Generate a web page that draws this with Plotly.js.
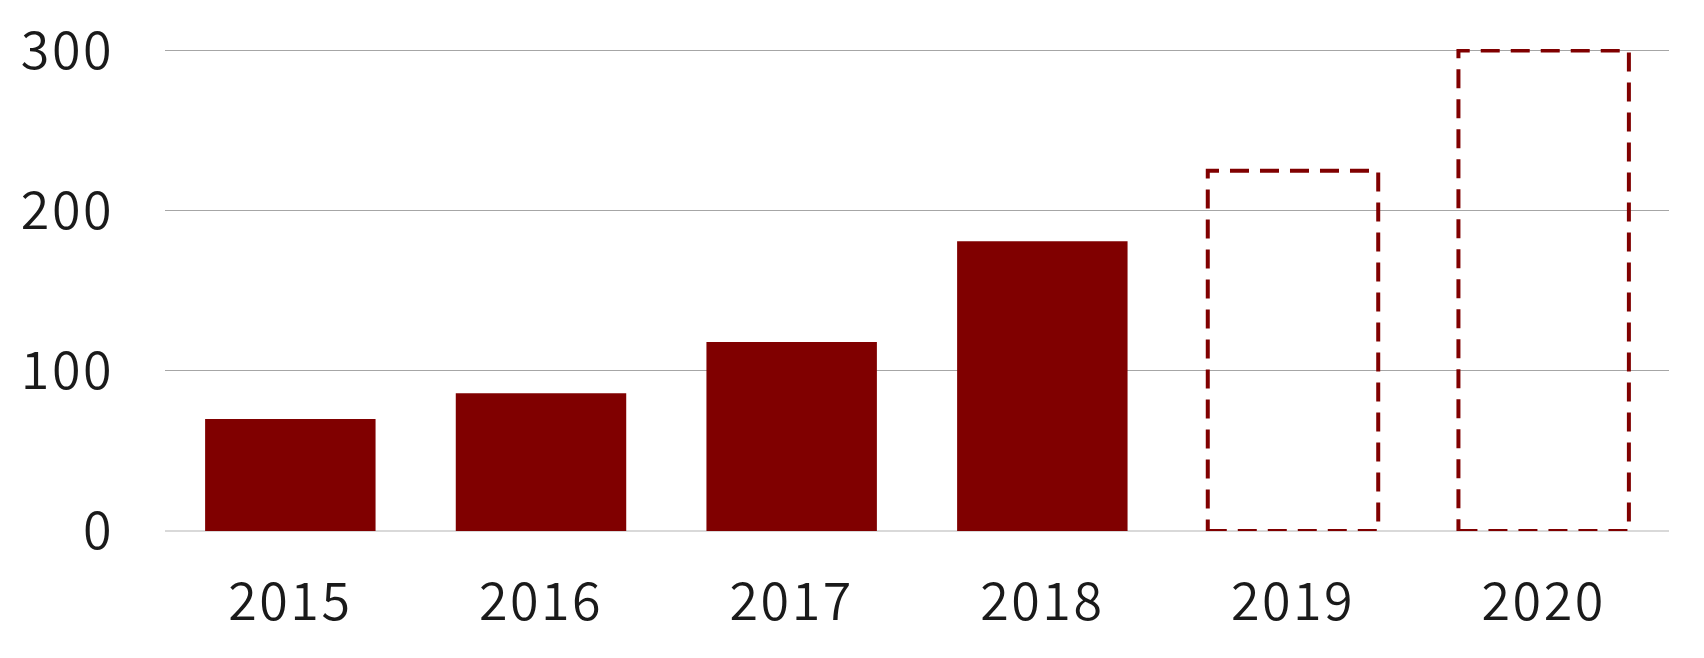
<!DOCTYPE html>
<html>
<head>
<meta charset="utf-8">
<script src="https://cdn.plot.ly/plotly-3.0.1.min.js"></script>
<style>
html,body{margin:0;padding:0;background:#fff;} #chart{width:1704px;height:658px;}
#chart .xtick text, #chart .ytick text {letter-spacing: 2.5px;}
</style>
</head>
<body>
<div id="chart"></div>
<script>
let years = ['2015', '2016', '2017', '2018', '2019', '2020'];
let values = [70, 86, 118, 181, 225, 300];
let forecast = [false, false, false, false, true, true];
let yTicks = [0, 100, 200, 300];

let barColor = '#800000';
let halfWidth = 0.34;

let data = [{
    type: 'bar',
    x: years,
    y: values,
    width: halfWidth * 2,
    marker: {color: forecast.map(f => f ? 'rgba(0,0,0,0)' : barColor), line: {width: 0}},
    showlegend: false
}];

// dashed outlines for the forecast years
var shapes = [];
values.forEach((v, i) => {
    if (!forecast[i]) return;
    shapes.push({type: 'rect', xref: 'x', yref: 'y', x0: i - halfWidth, x1: i + halfWidth, y0: 0, y1: v,
        line: {color: barColor, width: 4, dash: '19px,11px'}, fillcolor: 'rgba(0,0,0,0)', layer: 'above'});
});

var layout = {
    width: 1704,
    height: 658,
    margin: {l: 165, r: 35, t: 49, b: 127},
    paper_bgcolor: '#fff',
    plot_bgcolor: '#fff',
    font: {family: '"Noto Sans CJK JP", "Noto Sans", sans-serif', color: '#1a1a1a', size: 52, weight: 350},
    bargap: 0.32,
    xaxis: {type: 'category', showgrid: false, zeroline: false, showline: false, ticks: '', ticklabelstandoff: 36},
    yaxis: {range: [0, 301], tickvals: yTicks, showgrid: true, gridcolor: '#a6a6a6', gridwidth: 1.2,
        zeroline: true, zerolinecolor: '#d9d9d9', zerolinewidth: 2.5, showline: false, ticks: '', ticklabelstandoff: 50},
    shapes: shapes,
    hovermode: false
};

Plotly.newPlot('chart', data, layout, {displayModeBar: false, staticPlot: true});
</script>
</body>
</html>
